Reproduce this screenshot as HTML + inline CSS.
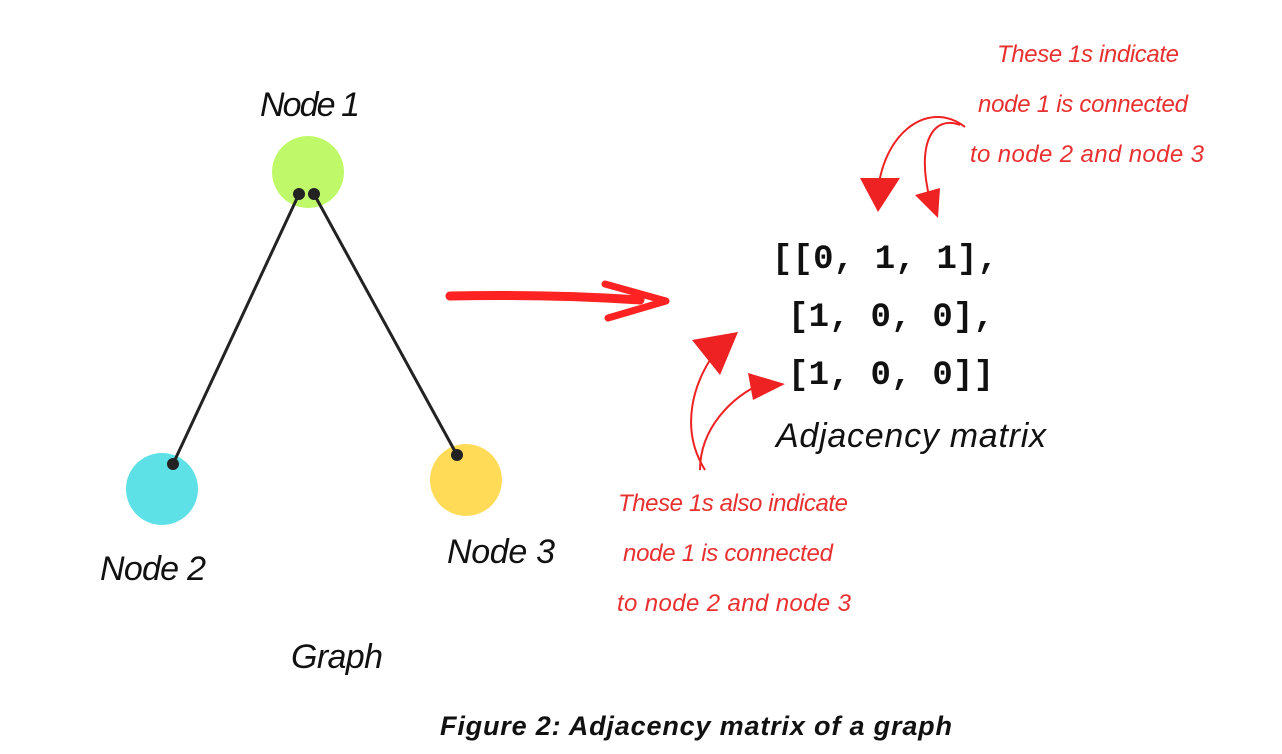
<!DOCTYPE html>
<html><head><meta charset="utf-8"><style>
html,body{margin:0;padding:0;background:#fff;}
svg{display:block}
.h{font-family:"Liberation Sans",sans-serif;font-style:italic;}
</style></head><body>
<svg width="1282" height="754" viewBox="0 0 1282 754" xmlns="http://www.w3.org/2000/svg">
<rect width="1282" height="754" fill="#fff"/>
<circle cx="308" cy="172" r="36" fill="#bff96a"/>
<circle cx="162" cy="489" r="36" fill="#5de0e6"/>
<circle cx="466" cy="480" r="36" fill="#ffdb58"/>
<line x1="299" y1="194" x2="173" y2="464" stroke="#222" stroke-width="3"/>
<line x1="314" y1="194" x2="457" y2="455" stroke="#222" stroke-width="3"/>
<circle cx="299" cy="194" r="6" fill="#222"/>
<circle cx="314" cy="194" r="6" fill="#222"/>
<circle cx="173" cy="464" r="6" fill="#222"/>
<circle cx="457" cy="455" r="6" fill="#222"/>
<g class="h" font-size="34" fill="#111">
<text x="260" y="116" textLength="100">Node 1</text>
<text x="100" y="580" textLength="106">Node 2</text>
<text x="447" y="563" textLength="108">Node 3</text>
<text x="291" y="668" textLength="92">Graph</text>
<text x="776" y="447" textLength="270">Adjacency matrix</text>
</g>
<path d="M450 296 Q550 294 640 300" stroke="#f22" stroke-width="9" fill="none" stroke-linecap="round"/>
<path d="M605 284 L666 301 L608 318" stroke="#f22" stroke-width="7" fill="none" stroke-linecap="round" stroke-linejoin="round"/>
<g font-family="Liberation Mono,monospace" font-weight="bold" font-size="34" fill="#111">
<text x="772" y="268" textLength="226">[[0, 1, 1],</text>
<text x="788" y="326" textLength="206">[1, 0, 0],</text>
<text x="788" y="384" textLength="206">[1, 0, 0]]</text>
</g>
<g stroke="#e22" stroke-width="2" fill="none">
<path d="M965 127 C930 100 885 130 878 190"/>
<path d="M960 125 C935 115 915 140 930 200"/>
<path d="M705 470 C680 430 690 380 725 340"/>
<path d="M700 470 C700 430 730 395 770 380"/>
</g>
<g fill="#e22">
<polygon points="860,178 900,178 878,212"/>
<polygon points="915,195 940,188 938,218"/>
<polygon points="692,340 738,332 720,375"/>
<polygon points="748,373 785,384 753,400"/>
</g>
<g class="h" font-size="24" fill="#e83030">
<text x="997" y="62" textLength="182">These 1s indicate</text>
<text x="978" y="112" textLength="210">node 1 is connected</text>
<text x="970" y="162" textLength="234">to node 2 and node 3</text>
<text x="618" y="511" textLength="230">These 1s also indicate</text>
<text x="623" y="561" textLength="210">node 1 is connected</text>
<text x="617" y="611" textLength="234">to node 2 and node 3</text>
</g>
<text x="440" y="735" textLength="512" font-family="Liberation Sans,sans-serif" font-weight="bold" font-style="italic" font-size="27" fill="#111">Figure 2: Adjacency matrix of a graph</text>
</svg>
</body></html>
